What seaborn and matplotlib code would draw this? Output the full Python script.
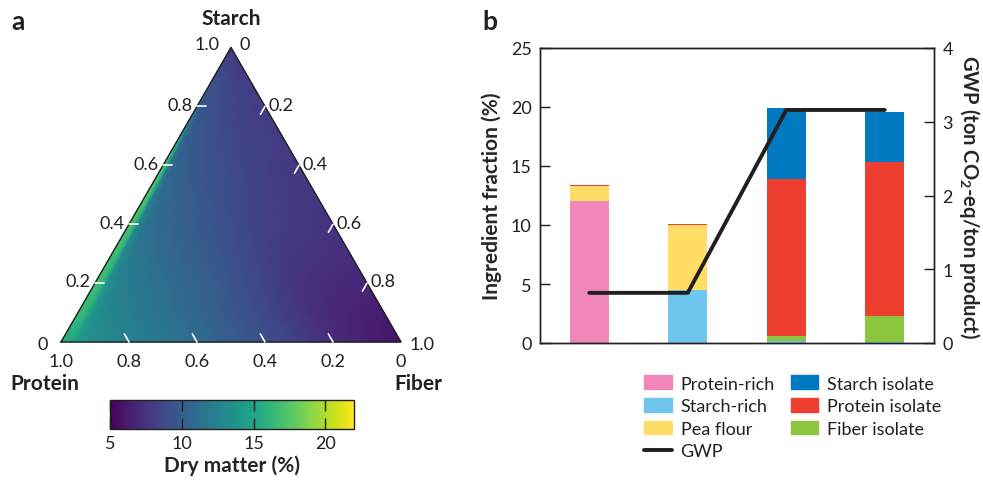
import numpy as np
import matplotlib.pyplot as plt
import seaborn as sns
from matplotlib.patches import Patch
from matplotlib.lines import Line2D

sns.set_style('white')
plt.rcParams['font.family'] = ['Lato', 'DejaVu Sans']
plt.rcParams['mathtext.fontset'] = 'custom'
plt.rcParams['mathtext.rm'] = 'Lato'
plt.rcParams['mathtext.bf'] = 'Lato:bold'
plt.rcParams['text.color'] = '#231f20'

# ---- panel a: dry matter over the ternary composition ----
# rows: starch fraction, cols: fiber share of the non-starch part
starch_levels = [0.0, 0.1, 0.2, 0.3, 0.4, 0.5, 0.6, 0.7, 0.8, 0.9, 1.0]
fiber_share = [0.0, 0.025, 0.045, 0.08, 0.15, 0.3, 0.45, 0.6, 0.75, 0.9, 1.0]
dry_matter = [
    [15.5, 15.3, 14.5, 13.5, 12.8, 11.8, 10.5, 9.2, 7.6, 6.4, 5.8],
    [16.5, 16.0, 14.0, 13.0, 12.3, 11.2, 10.0, 8.8, 7.4, 6.7, 6.3],
    [17.0, 16.3, 13.6, 12.5, 11.8, 10.8, 9.8, 8.6, 7.4, 7.0, 6.8],
    [17.0, 16.3, 13.2, 12.0, 11.3, 10.3, 9.5, 8.5, 7.7, 7.4, 7.2],
    [17.2, 16.5, 12.8, 11.5, 10.8, 10.0, 9.3, 8.5, 8.0, 7.7, 7.5],
    [17.5, 16.5, 12.3, 11.0, 10.4, 9.7, 9.1, 8.5, 8.1, 7.8, 7.7],
    [17.5, 16.0, 11.8, 10.5, 10.0, 9.4, 9.0, 8.5, 8.2, 7.9, 7.8],
    [15.0, 13.0, 10.8, 10.0, 9.7, 9.2, 8.8, 8.4, 8.2, 8.0, 7.9],
    [12.5, 11.0, 10.0, 9.5, 9.3, 9.0, 8.7, 8.4, 8.2, 8.0, 8.0],
    [10.0, 9.5, 9.2, 9.0, 8.9, 8.7, 8.5, 8.3, 8.1, 8.0, 8.0],
    [8.0, 8.0, 8.0, 8.0, 8.0, 8.0, 8.0, 8.0, 8.0, 8.0, 8.0],
]
tern_ticks = [0.2, 0.4, 0.6, 0.8]
cbar_ticks = [5, 10, 15, 20]

# ---- panel b: ingredient fractions and GWP ----
products = [0, 1, 2, 3]
protein_rich = [12.0, 0, 0, 0]
starch_rich = [0, 4.5, 0.15, 0.08]
fiber_isolate = [0, 0, 0.45, 2.2]
pea_flour = [1.3, 5.5, 0, 0]
protein_isolate = [0.12, 0.1, 13.3, 13.1]
starch_isolate = [0, 0, 6.0, 4.2]
gwp = [0.68, 0.68, 3.16, 3.16]

colors = {
    'Protein-rich': '#f087b8',
    'Starch-rich': '#6ec6ee',
    'Pea flour': '#ffdd66',
    'Starch isolate': '#0079c1',
    'Protein isolate': '#ee3e2f',
    'Fiber isolate': '#8cc63f',
}
dark = '#231f20'
tick_fs = 13
lab_fs = 15

W, H = 983, 481
fig = plt.figure(figsize=(W / 100, H / 100), dpi=100)


def px(x, y):
    return x / W, 1 - y / H


# ternary axes, 340 px per unit side
ax_t = fig.add_axes([10 / W, 1 - 383.8 / H, 442 / W, 380.8 / H])
ax_t.set_xlim(-0.15, 1.15)
ax_t.set_ylim(-0.12, 1.0)
ax_t.axis('off')

h = np.sqrt(3) / 2
S, R = np.meshgrid(starch_levels, fiber_share, indexing='ij')
F = R * (1 - S)
X = F + S / 2
Y = S * h
mesh = ax_t.pcolormesh(X, Y, np.array(dry_matter), cmap='viridis',
                       vmin=5, vmax=22, shading='gouraud')

ax_t.plot([0, 1, 0.5, 0], [0, 0, h, 0], color=dark, lw=1.0, clip_on=False)

tl = 0.027
for t in tern_ticks:
    # starch (left edge)
    ax_t.plot([t / 2, t / 2 + tl], [t * h, t * h], color='white', lw=1.2)
    ax_t.text(t / 2 - 0.013, t * h + 0.005, f'{t:.1f}', ha='right', va='center', fontsize=tick_fs)
    # fiber (right edge)
    xr, yr = t + (1 - t) / 2, (1 - t) * h
    ax_t.plot([xr, xr - 0.5 * tl], [yr, yr - h * tl], color='white', lw=1.2)
    ax_t.text(xr + 0.01, yr + 0.005, f'{t:.1f}', ha='left', va='center', fontsize=tick_fs)
    # protein (bottom edge)
    ax_t.plot([t, t - 0.5 * tl], [0, h * tl], color='white', lw=1.2)
    ax_t.text(t, -0.056, f'{1 - t:.1f}', ha='center', va='center', fontsize=tick_fs)

ax_t.text(0.429, 0.876, '1.0', ha='center', va='center', fontsize=tick_fs)
ax_t.text(0.541, 0.876, '0', ha='center', va='center', fontsize=tick_fs)
ax_t.text(-0.053, -0.006, '0', ha='center', va='center', fontsize=tick_fs)
ax_t.text(0.0, -0.056, '1.0', ha='center', va='center', fontsize=tick_fs)
ax_t.text(1.062, -0.006, '1.0', ha='center', va='center', fontsize=tick_fs)
ax_t.text(1.0, -0.056, '0', ha='center', va='center', fontsize=tick_fs)

ax_t.text(0.5, 0.953, 'Starch', ha='center', va='center', fontsize=lab_fs, fontweight='bold')
ax_t.text(-0.047, -0.12, 'Protein', ha='center', va='center', fontsize=lab_fs, fontweight='bold')
ax_t.text(1.05, -0.12, 'Fiber', ha='center', va='center', fontsize=lab_fs, fontweight='bold')

fig.text(*px(18, 22), 'a', ha='center', va='center', fontsize=19, fontweight='bold')
fig.text(*px(490, 22), 'b', ha='center', va='center', fontsize=19, fontweight='bold')

# colorbar
cax = fig.add_axes([110 / W, 1 - 430 / H, 244 / W, 29 / H])
cb = fig.colorbar(mesh, cax=cax, orientation='horizontal', ticks=cbar_ticks)
cb.outline.set_linewidth(1)
cb.outline.set_edgecolor(dark)
cax.set_axisbelow(False)  # seaborn style puts ticks under the colour strip
cax.xaxis.set_ticks_position('both')
cax.tick_params(axis='x', direction='in', length=8, width=1, top=True, bottom=True,
                labeltop=False, labelbottom=True, labelsize=tick_fs,
                color=dark, labelcolor=dark, pad=4)
cb.set_label('Dry matter (%)', fontsize=lab_fs, fontweight='bold', labelpad=3)

# ---- panel b ----
ax = fig.add_axes([540 / W, 1 - 344 / H, 394 / W, 295 / H])
layers = [
    ('Protein-rich', protein_rich),
    ('Starch-rich', starch_rich),
    ('Fiber isolate', fiber_isolate),
    ('Pea flour', pea_flour),
    ('Protein isolate', protein_isolate),
    ('Starch isolate', starch_isolate),
]
bottom = np.zeros(len(products))
for name, vals in layers:
    ax.bar(products, vals, bottom=bottom, width=0.4, color=colors[name], linewidth=0)
    bottom += np.array(vals)

ax.set_xlim(-0.5, 3.5)
ax.set_ylim(0, 25)
ax.set_yticks([0, 5, 10, 15, 20, 25])
ax.set_xticks([])
ax.tick_params(axis='y', direction='in', length=7, width=1, colors=dark,
               labelsize=tick_fs, pad=6, left=True)
ax.set_ylabel('Ingredient fraction (%)', fontsize=lab_fs, fontweight='bold', labelpad=6)

ax2 = ax.twinx()
sns.lineplot(x=products, y=gwp, ax=ax2, color=dark, linewidth=2.8)
ax2.set_ylim(0, 4)
ax2.set_yticks([0, 1, 2, 3, 4])
ax2.tick_params(axis='y', direction='in', length=7, width=1, colors=dark,
                labelsize=tick_fs, pad=6, right=True)
ax2.set_ylabel(r'GWP (ton CO$_\mathbf{2}$-eq/ton product)', fontsize=14.5,
               fontweight='bold', rotation=270, va='bottom', labelpad=3)

for a in (ax, ax2):
    for sp in a.spines.values():
        sp.set_color(dark)
        sp.set_linewidth(1)
        sp.set_visible(True)

names = ['Protein-rich', 'Starch-rich', 'Pea flour']
handles = [Patch(color=colors[n]) for n in names]
handles.append(Line2D([], [], color=dark, lw=2.8))
labels = names + ['GWP']
for n in ['Starch isolate', 'Protein isolate', 'Fiber isolate']:
    handles.append(Patch(color=colors[n]))
    labels.append(n)

fig.legend(handles, labels, ncol=2, loc='upper left', bbox_to_anchor=px(630, 362),
           frameon=False, fontsize=13, handlelength=1.5, handleheight=0.78,
           handletextpad=0.5, columnspacing=0.9, labelspacing=0.36, borderpad=0.3)

fig.savefig('out.png', dpi=100)
